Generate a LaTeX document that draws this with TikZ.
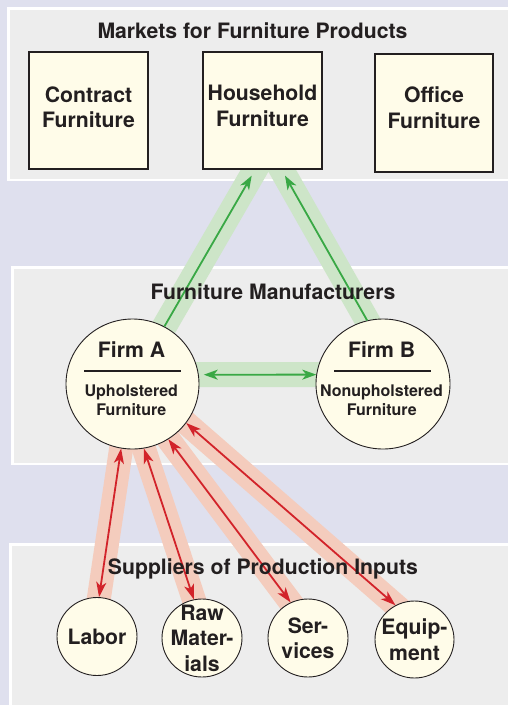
\documentclass[tikz,border=0pt]{standalone}
\usepackage{fontspec}
\setmainfont{TeX Gyre Heros}
\usetikzlibrary{arrows.meta,shapes.geometric}
\pgfdeclarelayer{back}
\pgfdeclarelayer{bands}
\pgfsetlayers{back,bands,main}
\definecolor{bgc}{HTML}{DFE0EE}
\definecolor{panelc}{HTML}{EDEDED}
\definecolor{creamc}{HTML}{FFFCE9}
\definecolor{inkc}{HTML}{231F20}
\definecolor{greenc}{HTML}{39A845}
\definecolor{greenband}{HTML}{CDE5C8}
\definecolor{redc}{HTML}{D2232A}
\definecolor{redband}{HTML}{F4CCBD}
\newcommand\diagbig{\bfseries\fontsize{21.2}{25.5}\selectfont}
\newcommand\diagsmall{\bfseries\fontsize{16}{18}\selectfont}
\begin{document}
\begin{tikzpicture}[x=1pt,y=-1pt,
  box/.style={draw=inkc, line width=1.3pt, fill=creamc, inner sep=0pt,
    minimum width=119pt, minimum height=117pt, align=center, font=\diagbig, text=inkc},
  firm/.style={ellipse, draw=inkc, line width=0.9pt, fill=creamc, inner sep=0pt,
    minimum width=133pt, minimum height=130pt},
  supp/.style={ellipse, draw=inkc, line width=0.9pt, fill=creamc, inner sep=0pt,
    minimum width=80pt, minimum height=78pt},
  bigtxt/.style={font=\diagbig, text=inkc, inner sep=0pt, align=center},
  smalltxt/.style={font=\diagsmall, text=inkc, inner sep=0pt},
  gband/.style={draw=greenband, line width=25pt},
  rband/.style={draw=redband, line width=24pt},
  tipg/.tip={Stealth[length=14pt,width=10pt,inset=4pt]},
  tipr/.tip={Stealth[length=15pt,width=10pt,inset=4pt]},
  garrow/.style={draw=greenc, fill=greenc, line width=1.8pt, -tipg},
  garrow2/.style={draw=greenc, fill=greenc, line width=1.8pt, tipg-tipg},
  rarrow/.style={draw=redc, fill=redc, line width=1.8pt, tipr-tipr}
]
\useasboundingbox (0,0) rectangle (508,705);
\begin{pgfonlayer}{back}
  \fill[bgc] (0,0) rectangle (508,705);
  \fill[white] (7,7) rectangle (508,181);
  \fill[panelc] (10,10) rectangle (508,178.5);
  \fill[white] (11,266) rectangle (508,465);
  \fill[panelc] (14,269) rectangle (508,462.5);
  \fill[white] (9,543) rectangle (508,705);
  \fill[panelc] (12,546) rectangle (508,705);
\end{pgfonlayer}

% market boxes
\node[box, text depth=7pt] (contract) at (88.5,110.5) {Contract\\Furniture};
\node[box, text depth=9pt] (house) at (262.5,110.5) {Household\\Furniture};
\node[box, text depth=11pt, minimum width=118pt, minimum height=118pt] (office) at (434,113) {Office\\Furniture};

% firms
\node[firm] (firmA) at (132.5,384) {};
\node[firm, minimum width=134pt] (firmB) at (383,384) {};
\node[bigtxt, anchor=base] (firmAname) at (131.5,357) {Firm A};
\node[smalltxt, anchor=base] (firmAk1) at (131.3,396.7) {Upholstered};
\node[smalltxt, anchor=base] (firmAk2) at (131.3,415) {Furniture};
\node[bigtxt, anchor=base] (firmBname) at (381.7,357) {Firm B};
\node[smalltxt, anchor=base] (firmBk1) at (381.5,396.7) {Nonupholstered};
\node[smalltxt, anchor=base] (firmBk2) at (381.7,415) {Furniture};
\draw[inkc, line width=2pt] (84,371) -- (181,371);
\draw[inkc, line width=2pt] (334,371) -- (431,371);

% suppliers
\node[supp] (labor) at (97,636.5) {};
\node[supp] (raw) at (202,638) {};
\node[supp] (serv) at (308,638) {};
\node[supp, minimum width=79pt, minimum height=77pt] (equip) at (414.5,639.5) {};
\node[bigtxt] (laborT) at (labor.center) {Labor};
\node[bigtxt] (rawT) at (raw.center) {Raw\\Mater-\\ials};
\node[bigtxt] (servT) at (serv.center) {Ser-\\vices};
\node[bigtxt] (equipT) at (equip.center) {Equip-\\ment};

% connector end points at the household box
\coordinate (hL) at ([xshift=-10.8pt,yshift=-6pt]house.south);
\coordinate (hR) at ([xshift=22.5pt,yshift=-6pt]house.south);

% bands
\begin{pgfonlayer}{bands}
  \draw[gband, shorten <=-30pt, shorten >=-20pt] (firmA.61) -- (hL);
  \draw[gband, shorten <=-30pt, shorten >=-20pt] (firmB.104) -- (hR);
  \draw[gband, shorten <=-30pt, shorten >=-30pt] (firmA.8) -- (firmB.172);
  \draw[rband, shorten <=-40pt, shorten >=-25pt] (firmA.-100) -- (labor.87);
  \draw[rband, shorten <=-40pt, shorten >=-25pt] (firmA.-80.6) -- (raw.102.6);
  \draw[rband, shorten <=-40pt, shorten >=-25pt] (firmA.-57.2) -- (serv.116.8);
  \draw[rband, shorten <=-40pt, shorten >=-25pt] (firmA.-36.1) -- (equip.119.5);
\end{pgfonlayer}

% arrows
\draw[garrow] (firmA.61) -- (hL);
\draw[garrow] (firmB.104) -- (hR);
\draw[garrow2, shorten <=5pt] (firmA.8) -- (firmB.172);
\draw[rarrow] (firmA.-100) -- (labor.87);
\draw[rarrow] (firmA.-80.6) -- (raw.102.6);
\draw[rarrow] (firmA.-57.2) -- (serv.116.8);
\draw[rarrow] (firmA.-36.1) -- (equip.119.5);

% titles
\node[bigtxt, anchor=base] (marketsT) at (252.5,38) {Markets for Furniture Products};
\node[bigtxt, anchor=base] (manufT) at (273,299) {Furniture Manufacturers};
\node[bigtxt, anchor=base] (suppT) at (263,574) {Suppliers of Production Inputs};
\end{tikzpicture}
\end{document}
